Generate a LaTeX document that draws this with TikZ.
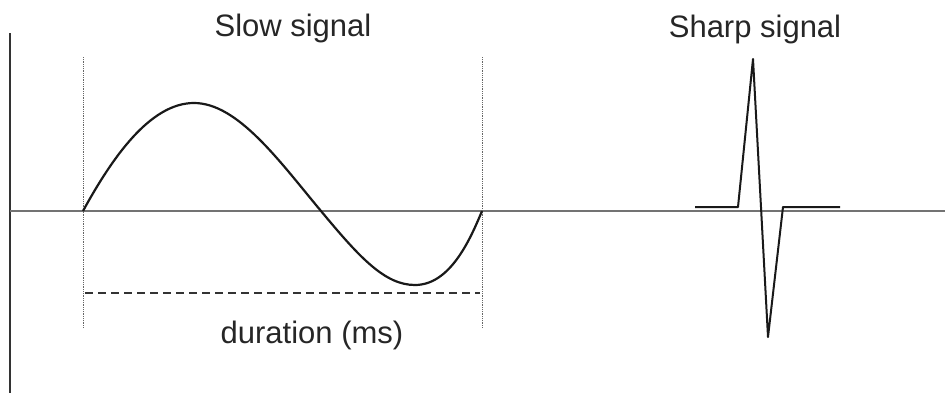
\documentclass[tikz,border=0pt]{standalone}
\usepackage{fontspec}
\setmainfont{Liberation Sans}
\begin{document}
\begin{tikzpicture}[x=1pt,y=-1pt,
  axis/.style={draw=black!55,line width=1.6pt},
  vaxis/.style={draw=black!80,line width=1.3pt},
  guide/.style={draw=black!60,line width=0.8pt,densely dotted},
  sig/.style={draw=black!90,line width=2.2pt,line join=round},
  dur/.style={draw=black!80,line width=1.8pt,dash pattern=on 8pt off 5pt},
  lbl/.style={inner sep=0pt,font=\fontsize{31}{37}\selectfont,text=black!85}]
\useasboundingbox (0,0) rectangle (945,394);
% axes
\coordinate (vt) at (10,33);
\coordinate (vb) at (10,393);
\coordinate (hl) at (10,211);
\coordinate (hr) at (945,211);
\draw[vaxis] (vt) -- (vb);
\draw[axis] (hl) -- (hr);
% guides
\coordinate (g1t) at (83,57);
\coordinate (g1b) at (83,328);
\coordinate (g2t) at (482,57);
\coordinate (g2b) at (482,328);
\draw[guide] (g1t) -- (g1b);
\draw[guide] (g2t) -- (g2b);
% slow signal
\coordinate (s0) at (83,211);
\coordinate (s1) at (194,103);
\coordinate (s2) at (321,211);
\coordinate (s3) at (415,285);
\coordinate (s4) at (482,211);
\draw[sig] (s0) .. controls (112,158) and (150,103) .. (s1)
  .. controls (238,103) and (280,162) .. (s2)
  .. controls (360,258) and (385,285) .. (s3)
  .. controls (450,285) and (470,240) .. (s4);
% duration
\coordinate (d0) at (85,293);
\coordinate (d1) at (480,293);
\draw[dur] (d0) -- (d1);
\node[lbl,anchor=base] (durlbl) at (312,343) {duration (ms)};
\node[lbl,anchor=base] (slowlbl) at (293,36) {Slow signal};
\node[lbl,anchor=base] (sharplbl) at (755,37) {Sharp signal};
% sharp signal
\coordinate (p0) at (695,207);
\coordinate (p1) at (738,207);
\coordinate (p2) at (753,59);
\coordinate (p3) at (768,337);
\coordinate (p4) at (783,207);
\coordinate (p5) at (840,207);
\draw[sig,line width=2pt] (p0) -- (p1) -- (p2) -- (p3) -- (p4) -- (p5);
\end{tikzpicture}
\end{document}
